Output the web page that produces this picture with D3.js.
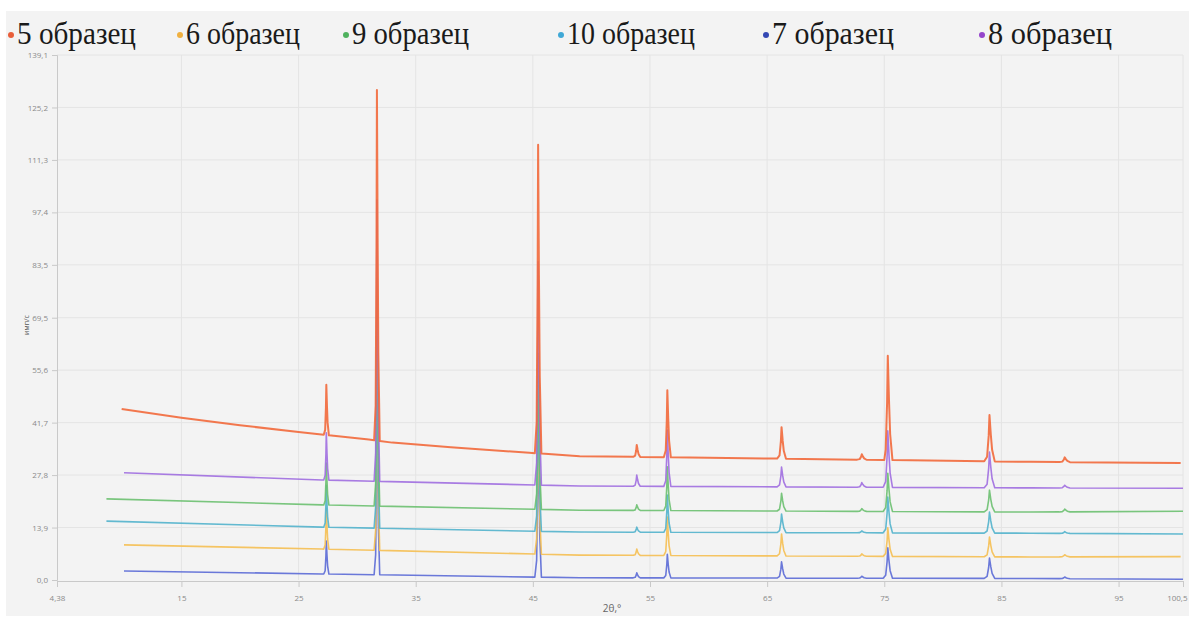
<!DOCTYPE html>
<html>
<head>
<meta charset="utf-8">
<title>XRD samples</title>
<style>
  body { margin: 0; background: #ffffff; overflow: hidden; }
  svg { display: block; }
  .tick text { font-family: "Open Sans", "DejaVu Sans", sans-serif; font-size: 8px; fill: #8a8a8a; }
  .axis path, .axis line { stroke: #c9c9c9; }
  .grid line { stroke: #e4e4e4; stroke-width: 1; }
  .legend text { font-family: "Liberation Serif", "DejaVu Serif", serif; font-size: 31px; fill: #1a1a1a; }
</style>
</head>
<body>
<svg id="chart" width="1189" height="623"></svg>

<script src="https://cdnjs.cloudflare.com/ajax/libs/d3/7.8.5/d3.min.js"></script>
<script>
  // legend / series names and colours
  const seriesNames = ["5 образец", "6 образец", "9 образец", "10 образец", "7 образец", "8 образец"];
  const lineColors  = ["#f2693b", "#f5bf52", "#6cc070", "#52b2cc", "#5b6ad6", "#a06ee0"];
  const dotColors   = ["#e85e3a", "#f0b040", "#4fb25e", "#3fa8d6", "#3448b4", "#9545cc"];

  // axis ticks
  const xTicks = [4.38, 15, 25, 35, 45, 55, 65, 75, 85, 95, 100.5];
  const xTickLabels = ["4,38", "15", "25", "35", "45", "55", "65", "75", "85", "95", "100,5"];
  const yTicks = [0, 13.9, 27.8, 41.7, 55.6, 69.5, 83.5, 97.4, 111.3, 125.2, 139.1];
  const yTickLabels = ["0,0", "13,9", "27,8", "41,7", "55,6", "69,5", "83,5", "97,4", "111,3", "125,2", "139,1"];

  // reflection positions (2θ) and half width at the foot
  const peakPos = [27.37, 31.69, 45.45, 53.87, 56.48, 66.23, 73.08, 75.30, 83.98, 90.40];
  const peakHalfWidth = [0.22, 0.24, 0.28, 0.30, 0.30, 0.38, 0.40, 0.40, 0.45, 0.45];

  // background knots [2θ, I] for every sample
  const base5  = [[9.9,45.3],[15,43.0],[20,41.0],[25,39.2],[31,37.2],[33,36.4],[38,35.2],[44.7,33.7],[49,32.8],[60,32.4],[75,31.8],[87.5,31.3],[100.3,31.0]];
  const base6  = [[10.1,9.3],[27,8.2],[49,6.6],[87.5,6.1],[100.3,6.2]];
  const base9  = [[8.6,21.5],[27,19.9],[49,18.5],[87.5,18.0],[100.5,18.2]];
  const base10 = [[8.6,15.6],[27,14.0],[49,12.7],[87.5,12.4],[100.5,12.2]];
  const base7  = [[10.1,2.4],[27,1.6],[49,0.6],[87.5,0.4],[100.5,0.2]];
  const base8  = [[10.1,28.4],[27,26.5],[49,24.9],[87.5,24.4],[100.5,24.3]];

  // peak top intensities, same order as peakPos
  const top5  = [51.7, 129.8, 115.3, 35.8, 50.3, 40.5, 33.3, 59.4, 43.7, 32.5];
  const top6  = [19.0, 62.0, 48.0, 8.2, 16.7, 12.2, 6.9, 13.8, 11.4, 6.7];
  const top9  = [31.0, 80.0, 60.0, 19.9, 30.0, 23.0, 18.9, 28.3, 23.8, 18.8];
  const top10 = [25.0, 70.0, 54.0, 14.0, 22.5, 17.5, 13.0, 22.0, 18.0, 12.8];
  const top7  = [10.3, 55.0, 45.0, 1.9, 6.8, 4.8, 1.0, 8.5, 5.8, 0.8];
  const top8  = [39.0, 100.7, 84.3, 27.8, 39.7, 29.9, 25.8, 39.5, 33.9, 25.1];

  const bases = [base5, base6, base9, base10, base7, base8];
  const tops  = [top5, top6, top9, top10, top7, top8];

  // peak outline, offsets relative to half width / peak height
  const peakProfile = [[-1, 0], [-0.45, 0.1], [-0.15, 0.55], [0, 1], [0.25, 0.58], [0.5, 0.25], [1, 0]];

  const svg = d3.select("#chart");
  const W = 1189, H = 623;
  const plot = { left: 57, right: 1183, top: 55, bottom: 580 };

  svg.append("rect").attr("x", 6).attr("y", 11).attr("width", W - 6).attr("height", 605).attr("fill", "#f3f3f3");

  const x = d3.scaleLinear().domain([4.38, 100.5]).range([plot.left, plot.right]);
  const y = d3.scaleLinear().domain([0, 139.1]).range([plot.bottom, plot.top]);

  // grid
  const grid = svg.append("g").attr("class", "grid");
  grid.selectAll(".gx").data(xTicks.slice(1)).enter().append("line")
    .attr("x1", d => x(d)).attr("x2", d => x(d)).attr("y1", plot.top).attr("y2", plot.bottom);
  grid.selectAll(".gy").data(yTicks.slice(1)).enter().append("line")
    .attr("x1", plot.left).attr("x2", plot.right).attr("y1", d => y(d)).attr("y2", d => y(d));

  // axes
  const gx = svg.append("g").attr("class", "axis").attr("transform", "translate(0," + (plot.bottom + 1) + ")");
  gx.call(d3.axisBottom(x).tickValues(d3.range(5, 100, 2)).tickSize(4).tickFormat(""));
  gx.call(d3.axisBottom(x).tickValues(xTicks).tickSize(6).tickPadding(8).tickFormat((d, i) => xTickLabels[i]));
  gx.selectAll(".tick text").filter(d => d === 100.5).attr("text-anchor", "end").attr("dx", 4);

  const gy = svg.append("g").attr("class", "axis").attr("transform", "translate(" + plot.left + ",0)");
  gy.call(d3.axisLeft(y).tickValues(d3.range(0, 139.2, 139.1 / 50)).tickSize(3).tickFormat(""));
  gy.call(d3.axisLeft(y).tickValues(yTicks).tickSize(5).tickPadding(4).tickFormat((d, i) => yTickLabels[i]));
  svg.selectAll(".axis .domain").attr("stroke", "#c9c9c9");

  svg.append("text")
    .attr("transform", "translate(29,325) rotate(-90)")
    .attr("text-anchor", "middle")
    .style("font-family", "'Open Sans', sans-serif").style("font-size", "7px").style("fill", "#555")
    .text("имп/с");

  svg.append("text")
    .attr("x", 612).attr("y", 612)
    .attr("text-anchor", "middle")
    .style("font-family", "'Open Sans', sans-serif").style("font-size", "10px").style("fill", "#666")
    .text("2θ,°");

  // build line points from background knots + peaks
  function buildPoints(knots, peakTops) {
    const bg = d3.scaleLinear().domain(knots.map(d => d[0])).range(knots.map(d => d[1]));
    const pts = knots.map(d => [d[0], d[1]]);
    peakPos.forEach((p, i) => {
      const w = peakHalfWidth[i];
      const b = bg(p);
      const h = peakTops[i] - b;
      peakProfile.forEach(o => {
        const px = p + o[0] * w;
        pts.push([px, bg(px) + o[1] * h]);
      });
    });
    return pts.sort((a, b) => a[0] - b[0]);
  }

  const line = d3.line().x(d => x(d[0])).y(d => y(d[1]));

  const drawOrder = [4, 1, 3, 2, 5, 0];
  svg.append("g").selectAll("path").data(drawOrder).enter().append("path")
    .attr("d", i => line(buildPoints(bases[i], tops[i])))
    .attr("fill", "none")
    .attr("stroke", i => lineColors[i])
    .attr("stroke-width", i => i === 0 ? 2 : 1.6)
    .attr("stroke-opacity", 0.9)
    .attr("stroke-linejoin", "round");

  // legend
  const legendX = [11, 180, 346, 561, 766, 982];
  const legendW = [119, 114, 117, 128, 122, 124];
  const legend = svg.append("g").attr("class", "legend");
  seriesNames.forEach((name, i) => {
    legend.append("circle").attr("cx", legendX[i]).attr("cy", 35).attr("r", 3).attr("fill", dotColors[i]);
    legend.append("text")
      .attr("x", legendX[i] + 6).attr("y", 44)
      .attr("textLength", legendW[i]).attr("lengthAdjust", "spacingAndGlyphs")
      .text(name);
  });
</script>
</body>
</html>
